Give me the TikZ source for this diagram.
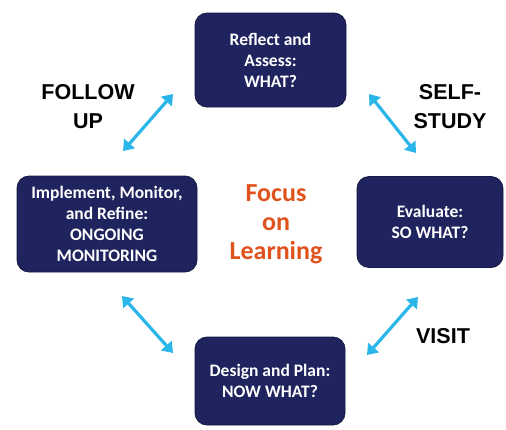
\documentclass[tikz,border=0pt]{standalone}
\usepackage{fontspec}
\setmainfont{Carlito}
\newfontfamily\lab{Liberation Sans}
\usetikzlibrary{arrows.meta}
\definecolor{navy}{HTML}{1F245E}
\definecolor{sky}{HTML}{2BB6EA}
\definecolor{orng}{HTML}{E0521C}
\tikzset{
  stagebox/.style={fill=navy, draw=navy!70!black, line width=0.8pt, rounded corners=12pt, text=white,
     font=\bfseries\fontsize{17.5}{21}\selectfont, align=center, inner sep=0pt},
  cyc/.style={draw=sky, line width=3.2pt, {Triangle[length=10pt,width=14pt]}-{Triangle[length=10pt,width=14pt]}},
  phase/.style={font=\lab\bfseries\fontsize{21.5}{29}\selectfont, align=center, text=black},
}
\begin{document}
\begin{tikzpicture}[x=1pt,y=-1pt]
\useasboundingbox (0,0) rectangle (506,429);
\node[stagebox, minimum width=151pt, minimum height=94pt] (top) at (270.5,60) {Reflect and\\Assess:\\WHAT?};
\node[stagebox, minimum width=180pt, minimum height=96pt] (left) at (107,224) {Implement, Monitor,\\and Refine:\\ONGOING\\MONITORING};
\node[stagebox, minimum width=146pt, minimum height=91pt] (right) at (430,222) {Evaluate:\\SO WHAT?};
\node[stagebox, minimum width=150pt, minimum height=88pt] (bot) at (270,381) {Design and Plan:\\NOW WHAT?};
\node[font=\bfseries\fontsize{26}{29}\selectfont, text=orng, align=center] (focus) at (276,224) {Focus\\on\\Learning};
\node[phase] (fu) at (88,107) {FOLLOW\\UP};
\node[phase] (ss) at (450,107) {SELF-\\STUDY};
\node[phase] (vi) at (443,336) {VISIT};
\coordinate (a1) at (123,151); \coordinate (a2) at (173,94);
\coordinate (b1) at (369,94); \coordinate (b2) at (416,153);
\coordinate (c1) at (122,296); \coordinate (c2) at (173,353);
\coordinate (d1) at (367,355); \coordinate (d2) at (418,297);
\draw[cyc] (a1) -- (a2);
\draw[cyc] (b1) -- (b2);
\draw[cyc] (c1) -- (c2);
\draw[cyc] (d1) -- (d2);
\end{tikzpicture}
\end{document}
